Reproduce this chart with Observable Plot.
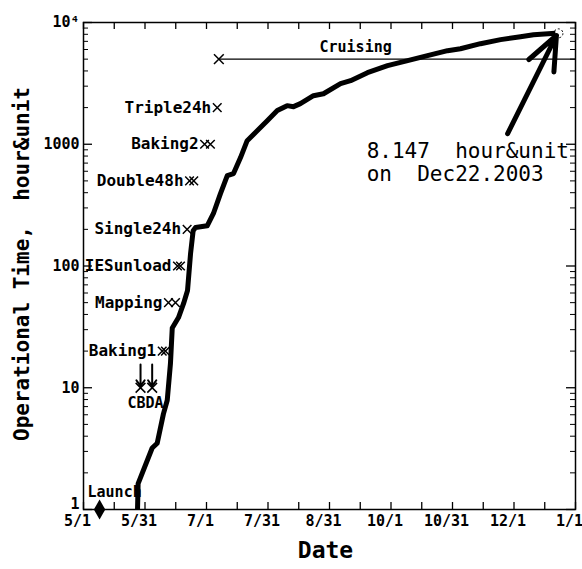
<!DOCTYPE html>
<html><head><meta charset="utf-8">
<script src="https://cdn.jsdelivr.net/npm/d3@7"></script>
<script src="https://cdn.jsdelivr.net/npm/@observablehq/plot@0.6"></script>
<style>
body{margin:0;background:#fff}
svg text{white-space:pre}
</style>
</head><body><div id="chart"></div>
<script>
// Days since May 1, 2003 and cumulative operational time (hour·unit)
const days  = [26.9, 27.2, 34.2, 36.7, 39.8, 41.7, 43.3, 44.2, 47.3, 49.8, 51.8, 53.3, 54.6, 55.8, 61.6, 64.7, 68.2, 71.6, 74.7, 78.2, 81.5, 86.5, 91.5, 96.5, 101.4, 104.6, 108, 114.5, 119.5, 128, 133, 141.4, 151.4, 161.4, 171.3, 181.3, 187.7, 197.7, 207.7, 217.6, 224.1, 235];
const hours = [1, 1.63, 3.2, 3.5, 6.1, 7.9, 15.8, 31, 37.7, 49, 63, 126, 195, 207, 214, 270, 393, 552, 574, 777, 1070, 1290, 1560, 1890, 2075, 2036, 2155, 2505, 2600, 3145, 3330, 3870, 4420, 4860, 5340, 5870, 6090, 6700, 7230, 7650, 7940, 8147];

const xTickLabels = ["5/1","5/31","7/1","7/31","8/31","10/1","10/31","12/1","1/1"];
const yTickValues = [1, 10, 100, 1000, 10000];
const yTickLabels = ["1","10","100","1000","10\u2074"];

const eventNames = ["Triple24h","Baking2","Double48h","Single24h","IESunload","Mapping","Baking1"];
const eventDays  = [[66.6],[60.3,63.2],[52.8,54.9],[51.6],[46.8,48.3],[42.3,45.8],[39.2,40.8]];
const eventHours = [2000, 1000, 500, 200, 100, 50, 20];

const cbdaDays = [28.4, 34.2];
const cbdaHours = 10;
const launchDay = 8, launchHours = 1;
const cruiseStartDay = 67.4, cruiseEndDay = 245, cruiseHours = 5000;
const finalDay = 235, finalHours = 8147;

const curve = days.map((d, i) => ({day: d, h: hours[i]}));
const xMajor = d3.range(9).map(i => i * 245 / 8);
const xMinor = d3.range(17).map(i => i * 245 / 16);
const yMinor = [];
for (const dec of [1, 10, 100, 1000]) for (let k = 2; k <= 9; k++) yMinor.push(dec * k);
const events = eventNames.map((n, i) => ({name: n, day: eventDays[i][0], h: eventHours[i]}));
const eventMarks = eventNames.flatMap((n, i) => eventDays[i].map(d => ({day: d, h: eventHours[i]})));
const cbda = cbdaDays.map(d => ({day: d, h: cbdaHours}));

const W = 582, H = 569, mL = 83, mR = 7, mT = 22, mB = 60;
const pw = W - mL - mR, ph = H - mT - mB;
const font = "DejaVu Sans Mono";
const yFmt = d => yTickLabels[yTickValues.indexOf(d)];

const chart = Plot.plot({
  width: W, height: H,
  marginLeft: mL, marginRight: mR, marginTop: mT, marginBottom: mB,
  style: {fontFamily: font, fontWeight: "bold", background: "#fff", color: "#000"},
  x: {domain: [0, 245], axis: null},
  y: {type: "log", domain: [1, 10000], axis: null},
  marks: [
    Plot.frame({stroke: "#000", strokeWidth: 1.5}),
    // bottom & top ticks
    Plot.tickX(xMinor, {x: d => d, insetTop: ph - 7, stroke: "#000", strokeWidth: 1.3}),
    Plot.tickX(xMinor, {x: d => d, insetBottom: ph - 7, stroke: "#000", strokeWidth: 1.3}),
    // left & right ticks
    Plot.tickY(yTickValues, {y: d => d, insetRight: pw - 9, stroke: "#000", strokeWidth: 1.3}),
    Plot.tickY(yMinor, {y: d => d, insetRight: pw - 5, stroke: "#000", strokeWidth: 1}),
    Plot.tickY(yTickValues, {y: d => d, insetLeft: pw - 9, stroke: "#000", strokeWidth: 1.3}),
    Plot.tickY(yMinor, {y: d => d, insetLeft: pw - 5, stroke: "#000", strokeWidth: 1}),
    Plot.axisX({ticks: xMajor, tickFormat: d => xTickLabels[xMajor.indexOf(d)], label: null, tickSize: 0, tickPadding: 6, dx: -6, fontSize: 15, fontWeight: "bold", fontFamily: font}),
    Plot.axisY({ticks: yTickValues.slice(1), tickFormat: yFmt, label: null, tickSize: 0, tickPadding: 4, fontSize: 15, fontWeight: "bold", fontFamily: font}),
    Plot.axisY({ticks: yTickValues.slice(0, 1), tickFormat: yFmt, label: null, tickSize: 0, tickPadding: 4, dy: -5, fontSize: 15, fontWeight: "bold", fontFamily: font}),
    // axis titles
    Plot.text(["Date"], {frameAnchor: "bottom", dy: 48, dx: -4, fontSize: 23, fontWeight: "bold"}),
    Plot.text(["Operational Time,  hour&unit"], {frameAnchor: "left", textAnchor: "middle", dx: -61, dy: -2, rotate: -90, fontSize: 21, fontWeight: "bold"}),
    // cruising
    Plot.ruleY([cruiseHours], {x1: cruiseStartDay, x2: cruiseEndDay, stroke: "#000", strokeWidth: 1.3}),
    Plot.dot([{day: cruiseStartDay, h: cruiseHours}], {x: "day", y: "h", symbol: "times", r: 4.5, stroke: "#000", strokeWidth: 1.5}),
    Plot.text(["Cruising"], {x: 135.5, y: cruiseHours, dy: -12, fontSize: 15, fontWeight: "bold"}),
    // events
    Plot.dot(eventMarks, {x: "day", y: "h", symbol: "times", r: 4, stroke: "#000", strokeWidth: 1.5}),
    Plot.text(events, {x: "day", y: "h", text: "name", textAnchor: "end", dx: -6, fontSize: 16, fontWeight: "bold"}),
    // CBDA
    Plot.arrow(cbda, {x1: "day", x2: "day", y1: 15.5, y2: d => d.h * 1.03, stroke: "#000", strokeWidth: 2, headLength: 8, headAngle: 70}),
    Plot.dot(cbda, {x: "day", y: "h", symbol: "times", r: 4.5, stroke: "#000", strokeWidth: 1.5}),
    Plot.text(["CBDA"], {x: 30.9, y: 7.4, fontSize: 15, fontWeight: "bold"}),
    // launch
    Plot.dot([{day: launchDay, h: launchHours}], {x: "day", y: "h", symbol: "diamond", r: 6, fill: "#000"}),
    Plot.text(["Launch"], {x: 2, y: 1.38, textAnchor: "start", fontSize: 15, fontWeight: "bold"}),
    // curve
    Plot.line(curve, {x: "day", y: "h", stroke: "#000", strokeWidth: 5, strokeLinejoin: "round", strokeLinecap: "butt"}),
    // final annotation
    Plot.dot([{day: finalDay, h: finalHours}], {x: d => d.day + 1.5, y: "h", r: 4.5, stroke: "#000", strokeWidth: 1, strokeDasharray: "2,2"}),
    Plot.arrow([{day: finalDay, h: finalHours}], {x1: 211.2, y1: 1222, x2: d => d.day + 0.5, y2: d => d.h * 0.96, stroke: "#000", strokeWidth: 5, headLength: 22, headAngle: 45}),
    Plot.text(["8.147  hour&unit\non  Dec22.2003"], {x: 141, y: 1050, textAnchor: "start", lineAnchor: "top", lineHeight: 1.1, fontSize: 21, fontWeight: "normal"})
  ]
});
document.getElementById("chart").appendChild(chart);
</script>
</body></html>
